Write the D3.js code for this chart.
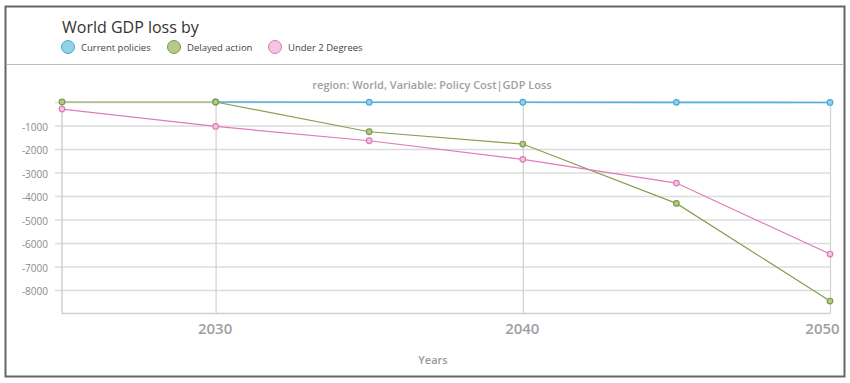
<!DOCTYPE html>
<html>
<head>
<meta charset="utf-8">
<script src="https://cdn.jsdelivr.net/npm/d3@7"></script>
<style>
    body { margin: 0; background: #fff; }
    text { font-family: "Open Sans", Lato, sans-serif; }
</style>
</head>
<body>
<svg id="chart" width="850" height="383"></svg>
<script>
// data
const years = [2025, 2030, 2035, 2040, 2045, 2050];
const currentPolicies = [null, 0, -10, -10, -15, -20];
const delayedAction = [0, 0, -1265, -1790, -4315, -8470];
const under2Degrees = [-300, -1040, -1650, -2440, -3450, -6470];
const seriesNames = ['Current policies', 'Delayed action', 'Under 2 Degrees'];
const xTicks = [2030, 2040, 2050];
const yTicks = [0, -1000, -2000, -3000, -4000, -5000, -6000, -7000, -8000];

const colors = [
    {line: '#4fb0dc', fill: '#92d1e6', stroke: '#49a9d4'},
    {line: '#86a050', fill: '#b5c98a', stroke: '#7f9a48'},
    {line: '#e07bbb', fill: '#f3c5e0', stroke: '#d97ab6'}
];

let series = [currentPolicies, delayedAction, under2Degrees].map((vals, i) => ({
    name: seriesNames[i],
    color: colors[i],
    points: years.map((y, j) => ({year: y, value: vals[j]})).filter(d => d.value !== null)
}));

let svg = d3.select('#chart');

// frame
svg.append('rect')
    .attr('x', 5.5).attr('y', 6.5)
    .attr('width', 839).attr('height', 370)
    .style('fill', 'none')
    .style('stroke', '#666')
    .style('stroke-width', 2);

svg.append('line')
    .attr('x1', 6).attr('x2', 844)
    .attr('y1', 64.5).attr('y2', 64.5)
    .style('stroke', '#bbb')
    .style('stroke-width', 1);

// header
svg.append('text')
    .attr('x', 62).attr('y', 33)
    .style('font-size', '16px')
    .style('fill', '#333')
    .text('World GDP loss by');

let legend = svg.selectAll('.legend')
    .data(series)
    .join('g')
    .attr('class', 'legend')
    .attr('transform', (d, i) => `translate(${[68, 174, 275][i]}, 47)`);

legend.append('circle')
    .attr('r', 6.5)
    .style('fill', d => d.color.fill)
    .style('stroke', d => d.color.stroke)
    .style('stroke-width', 1);

legend.append('text')
    .attr('x', 13).attr('y', 3.5)
    .style('font-size', '9.5px')
    .style('fill', '#444')
    .text(d => d.name);

svg.append('text')
    .attr('x', 432).attr('y', 89)
    .attr('text-anchor', 'middle')
    .style('font-size', '11px')
    .style('font-weight', 600)
    .style('fill', '#a0a0a0')
    .text('region: World, Variable: Policy Cost|GDP Loss');

// scales
let xScale = d3.scaleLinear().domain([2025, 2050]).range([62, 830]);
let yScale = d3.scaleLinear().domain([-9000, 0]).range([313.5, 102]);

// horizontal grid + y labels
let yAxis = d3.axisLeft(yScale)
    .tickValues(yTicks)
    .tickSize(-(830 - 55))
    .tickPadding(8)
    .tickFormat(d => d === 0 ? '' : d);

let yG = svg.append('g')
    .attr('transform', 'translate(830, 0)')
    .call(yAxis);
yG.select('.domain').remove();
yG.selectAll('line')
    .attr('x1', 0).attr('x2', -(830 - 55))
    .style('stroke', '#dcdcdc')
    .style('stroke-width', 1.5);
yG.selectAll('text')
    .attr('x', -(830 - 48))
    .attr('dy', '0.45em')
    .style('font-size', '10px')
    .style('fill', '#8a8a8a');

// vertical grid + x labels
let xAxis = d3.axisBottom(xScale)
    .tickValues(xTicks)
    .tickSize(-(313.5 - 102))
    .tickPadding(10)
    .tickFormat(d3.format('d'));

let xG = svg.append('g')
    .attr('transform', 'translate(0, 313.5)')
    .call(xAxis);
xG.select('.domain').remove();
xG.selectAll('line')
    .style('stroke', '#d0d0d0')
    .style('stroke-width', 1.2);
xG.selectAll('text')
    .style('font-size', '15px')
    .style('font-weight', 600)
    .style('fill', '#a0a0a0')
    .attr('dx', d => d === 2050 ? -8 : -1);

// axis lines
svg.append('line')
    .attr('x1', xScale(2025)).attr('x2', xScale(2025))
    .attr('y1', yScale(0)).attr('y2', yScale(-9000))
    .style('stroke', '#d0d0d0')
    .style('stroke-width', 1.5);
svg.append('line')
    .attr('x1', xScale(2025)).attr('x2', xScale(2050))
    .attr('y1', yScale(-9000)).attr('y2', yScale(-9000))
    .style('stroke', '#d0d0d0')
    .style('stroke-width', 1.5);

svg.append('text')
    .attr('x', 433).attr('y', 364)
    .attr('text-anchor', 'middle')
    .style('font-size', '11px')
    .style('font-weight', 600)
    .style('fill', '#999')
    .text('Years');

// lines
let lineGen = d3.line()
    .x(d => xScale(d.year))
    .y(d => yScale(d.value));

let seriesG = svg.selectAll('.series')
    .data(series)
    .join('g')
    .attr('class', 'series');

seriesG.append('path')
    .attr('d', d => lineGen(d.points))
    .style('fill', 'none')
    .style('stroke', d => d.color.line)
    .style('stroke-width', (d, i) => i === 0 ? 1.6 : 1.2);

seriesG.selectAll('circle')
    .data(d => d.points.map(p => ({...p, color: d.color})))
    .join('circle')
    .attr('cx', d => xScale(d.year))
    .attr('cy', d => yScale(d.value))
    .attr('r', 2.8)
    .style('fill', d => d.color.fill)
    .style('stroke', d => d.color.stroke)
    .style('stroke-width', 1.2);
</script>
</body>
</html>
